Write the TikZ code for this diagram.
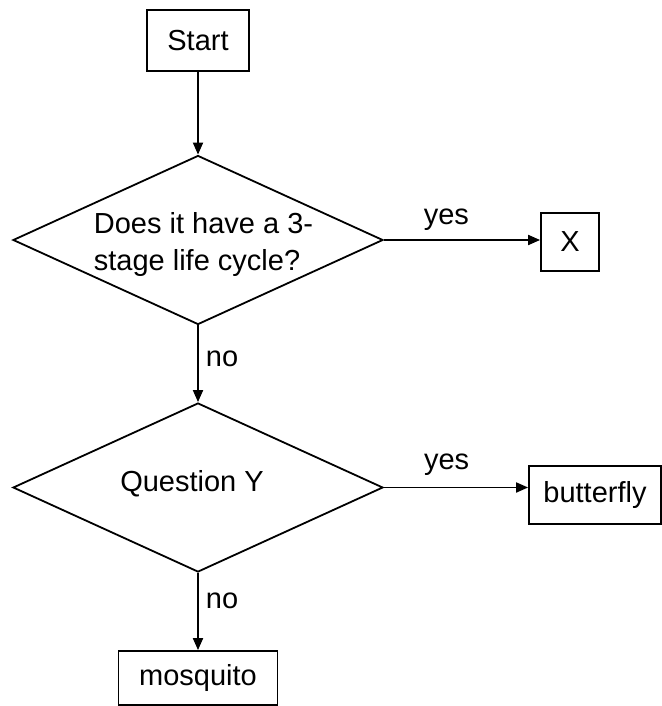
\documentclass[tikz,border=0pt]{standalone}
\usepackage{fontspec}
\setmainfont{Liberation Sans}
\usepackage{tikz}
\usetikzlibrary{shapes.geometric,arrows.meta,positioning}

\begin{document}
\begin{tikzpicture}[line width=0.9pt,
        every node/.style={font=\fontsize{14.5}{18.75}\selectfont},
        box/.style={draw, rectangle, inner sep=0pt},
        decision/.style={draw, diamond, inner sep=0pt, minimum width=185pt, minimum height=84.5pt},
        flow/.style={-{Triangle[length=6pt,width=5pt]}},
        lbl/.style={inner sep=0pt}]
        \useasboundingbox (0,0) rectangle (331pt,-353pt);

        % Start
        \node [box, minimum width=51pt, minimum height=30.5pt] (start) at (99pt,-20.25pt) {Start};

        % First question
        \node [decision, below of=start, node distance=99.75pt] (q1) {};
        \node [align=left, xshift=2.75pt, yshift=-2.25pt] (q1text) at (q1) {Does it have a 3-\\stage life cycle?};
        \node [box, right of=q1, node distance=186pt, yshift=-1pt, minimum width=29pt, minimum height=29pt] (xbox) {X};

        % Second question
        \node [decision, below of=q1, node distance=123.75pt] (q2) {};
        \node [xshift=-3pt, yshift=2pt] (q2text) at (q2) {Question Y};
        \node [box, right of=q2, node distance=198.5pt, yshift=-3.75pt, minimum width=66pt, minimum height=29pt] (butterfly) {butterfly};
        \node [box, below of=q2, node distance=95.25pt, minimum width=79.5pt, minimum height=27pt] (mosquito) {mosquito};

        % Arrows
        \draw [flow] (start) -- (q1);
        \draw [flow] (q1.east) -- (q1.east -| xbox.west) node [lbl, above=4.5pt, pos=0.4] (yes1) {yes};
        \draw [flow] (q1) -- (q2) node [lbl, right=3.5pt, pos=0.43] (no1) {no};
        \draw [flow] (q2.east) -- (q2.east -| butterfly.west) node [lbl, above=5.5pt, pos=0.435] (yes2) {yes};
        \draw [flow] (q2) -- (mosquito) node [lbl, right=3.5pt, pos=0.36] (no2) {no};
    \end{tikzpicture}
\end{document}
